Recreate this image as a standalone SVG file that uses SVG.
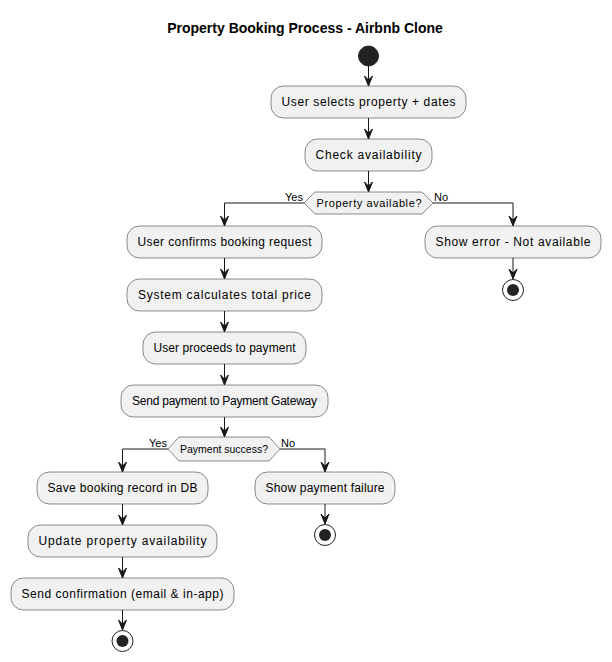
<svg xmlns="http://www.w3.org/2000/svg" width="612" height="662" viewBox="0 0 612 662">
<defs>
<style>
.box{fill:#F1F1F1;stroke:#181818;stroke-width:0.5}
.t{font-family:"Liberation Sans",Arial,sans-serif;font-size:12px;fill:#000;text-anchor:middle}
.dt{font-family:"Liberation Sans",Arial,sans-serif;font-size:11px;fill:#000;text-anchor:middle}
.lbl{font-family:"Liberation Sans",Arial,sans-serif;font-size:11px;fill:#000}
.ln{fill:none;stroke:#181818;stroke-width:1}
.ah{fill:#181818;stroke:#181818;stroke-width:1}
.start{fill:#222222;stroke:#222222}
.endo{fill:none;stroke:#222222;stroke-width:1}
.endi{fill:#222222;stroke:none}
</style>
</defs>
<rect width="612" height="662" fill="#FFFFFF"/>
<text x="305" y="33" style="font-family:'Liberation Sans',Arial,sans-serif;font-size:14px;font-weight:bold;text-anchor:middle">Property Booking Process - Airbnb Clone</text>

<g id="connectors">
<path class="ln" d="M368.5,66 V85"/>
<polygon class="ah" points="364.5,76 368.5,86 372.5,76 368.5,80"/>
<path class="ln" d="M368.5,118 V138"/>
<polygon class="ah" points="364.5,129 368.5,139 372.5,129 368.5,133"/>
<path class="ln" d="M368.5,171 V191"/>
<polygon class="ah" points="364.5,182 368.5,192 372.5,182 368.5,186"/>
<path class="ln" d="M304,203 H224.5 V225"/>
<polygon class="ah" points="220.5,216 224.5,226 228.5,216 224.5,220"/>
<path class="ln" d="M433,203 H513 V225"/>
<polygon class="ah" points="509,216 513,226 517,216 513,220"/>
<path class="ln" d="M513,258 V278"/>
<polygon class="ah" points="509,269 513,279 517,269 513,273"/>
<path class="ln" d="M224.5,258 V278"/>
<polygon class="ah" points="220.5,269 224.5,279 228.5,269 224.5,273"/>
<path class="ln" d="M224.5,311 V331"/>
<polygon class="ah" points="220.5,322 224.5,332 228.5,322 224.5,326"/>
<path class="ln" d="M224.5,364 V384"/>
<polygon class="ah" points="220.5,375 224.5,385 228.5,375 224.5,379"/>
<path class="ln" d="M224.5,417 V436"/>
<polygon class="ah" points="220.5,427 224.5,437 228.5,427 224.5,431"/>
<path class="ln" d="M168,449 H122.5 V471"/>
<polygon class="ah" points="118.5,462 122.5,472 126.5,462 122.5,466"/>
<path class="ln" d="M280,449 H325 V471"/>
<polygon class="ah" points="321,462 325,472 329,462 325,466"/>
<path class="ln" d="M325,504 V523"/>
<polygon class="ah" points="321,514 325,524 329,514 325,518"/>
<path class="ln" d="M122.5,504 V524"/>
<polygon class="ah" points="118.5,515 122.5,525 126.5,515 122.5,519"/>
<path class="ln" d="M122.5,557 V577"/>
<polygon class="ah" points="118.5,568 122.5,578 126.5,568 122.5,572"/>
<path class="ln" d="M122.5,610 V629"/>
<polygon class="ah" points="118.5,620 122.5,630 126.5,620 122.5,624"/>
<text class="lbl" x="303" y="201" text-anchor="end">Yes</text>
<text class="lbl" x="434" y="201">No</text>
<text class="lbl" x="167" y="447" text-anchor="end">Yes</text>
<text class="lbl" x="281" y="447">No</text>
</g>

<g id="start"><circle class="start" cx="368.5" cy="56" r="10"/></g>
<g id="n1"><rect class="box" x="271" y="86" width="195" height="32" rx="12.5"/><text class="t" x="368.5" y="106" textLength="174" lengthAdjust="spacing">User selects property + dates</text></g>
<g id="n2"><rect class="box" x="305" y="139" width="127" height="32" rx="12.5"/><text class="t" x="368.5" y="159" textLength="106" lengthAdjust="spacing">Check availability</text></g>
<g id="d1"><polygon class="box" points="304,203 315,192 422,192 433,203 422,214 315,214"/><text class="dt" x="369" y="207" textLength="105" lengthAdjust="spacing">Property available?</text></g>
<g id="n3"><rect class="box" x="127" y="226" width="195" height="32" rx="12.5"/><text class="t" x="224.5" y="246" textLength="174" lengthAdjust="spacing">User confirms booking request</text></g>
<g id="nerr"><rect class="box" x="425" y="226" width="176" height="32" rx="12.5"/><text class="t" x="513" y="246" textLength="155" lengthAdjust="spacing">Show error - Not available</text></g>
<g id="end1"><circle class="endo" cx="513" cy="290" r="10.5"/><circle class="endi" cx="513" cy="290" r="6"/></g>
<g id="n4"><rect class="box" x="127" y="279" width="195" height="32" rx="12.5"/><text class="t" x="224.5" y="299" textLength="173" lengthAdjust="spacing">System calculates total price</text></g>
<g id="n5"><rect class="box" x="143" y="332" width="163" height="32" rx="12.5"/><text class="t" x="224.5" y="352" textLength="142" lengthAdjust="spacing">User proceeds to payment</text></g>
<g id="n6"><rect class="box" x="121" y="385" width="207" height="32" rx="12.5"/><text class="t" x="224.5" y="405" textLength="185" lengthAdjust="spacing">Send payment to Payment Gateway</text></g>
<g id="d2"><polygon class="box" points="168,449 179,437 269,437 280,449 269,461 179,461"/><text class="dt" x="224" y="453" style="font-size:10.5px" textLength="88" lengthAdjust="spacing">Payment success?</text></g>
<g id="n7"><rect class="box" x="37" y="472" width="171" height="32" rx="12.5"/><text class="t" x="122.5" y="492" textLength="150" lengthAdjust="spacing">Save booking record in DB</text></g>
<g id="nfail"><rect class="box" x="255" y="472" width="140" height="32" rx="12.5"/><text class="t" x="325" y="492" textLength="119" lengthAdjust="spacing">Show payment failure</text></g>
<g id="end2"><circle class="endo" cx="325" cy="535" r="10.5"/><circle class="endi" cx="325" cy="535" r="6"/></g>
<g id="n8"><rect class="box" x="28" y="525" width="189" height="32" rx="12.5"/><text class="t" x="122.5" y="545" textLength="168" lengthAdjust="spacing">Update property availability</text></g>
<g id="n9"><rect class="box" x="11" y="578" width="223" height="32" rx="12.5"/><text class="t" x="122.5" y="598" textLength="202" lengthAdjust="spacing">Send confirmation (email &amp; in-app)</text></g>
<g id="end3"><circle class="endo" cx="122.5" cy="641" r="10.5"/><circle class="endi" cx="122.5" cy="641" r="6"/></g>
</svg>
